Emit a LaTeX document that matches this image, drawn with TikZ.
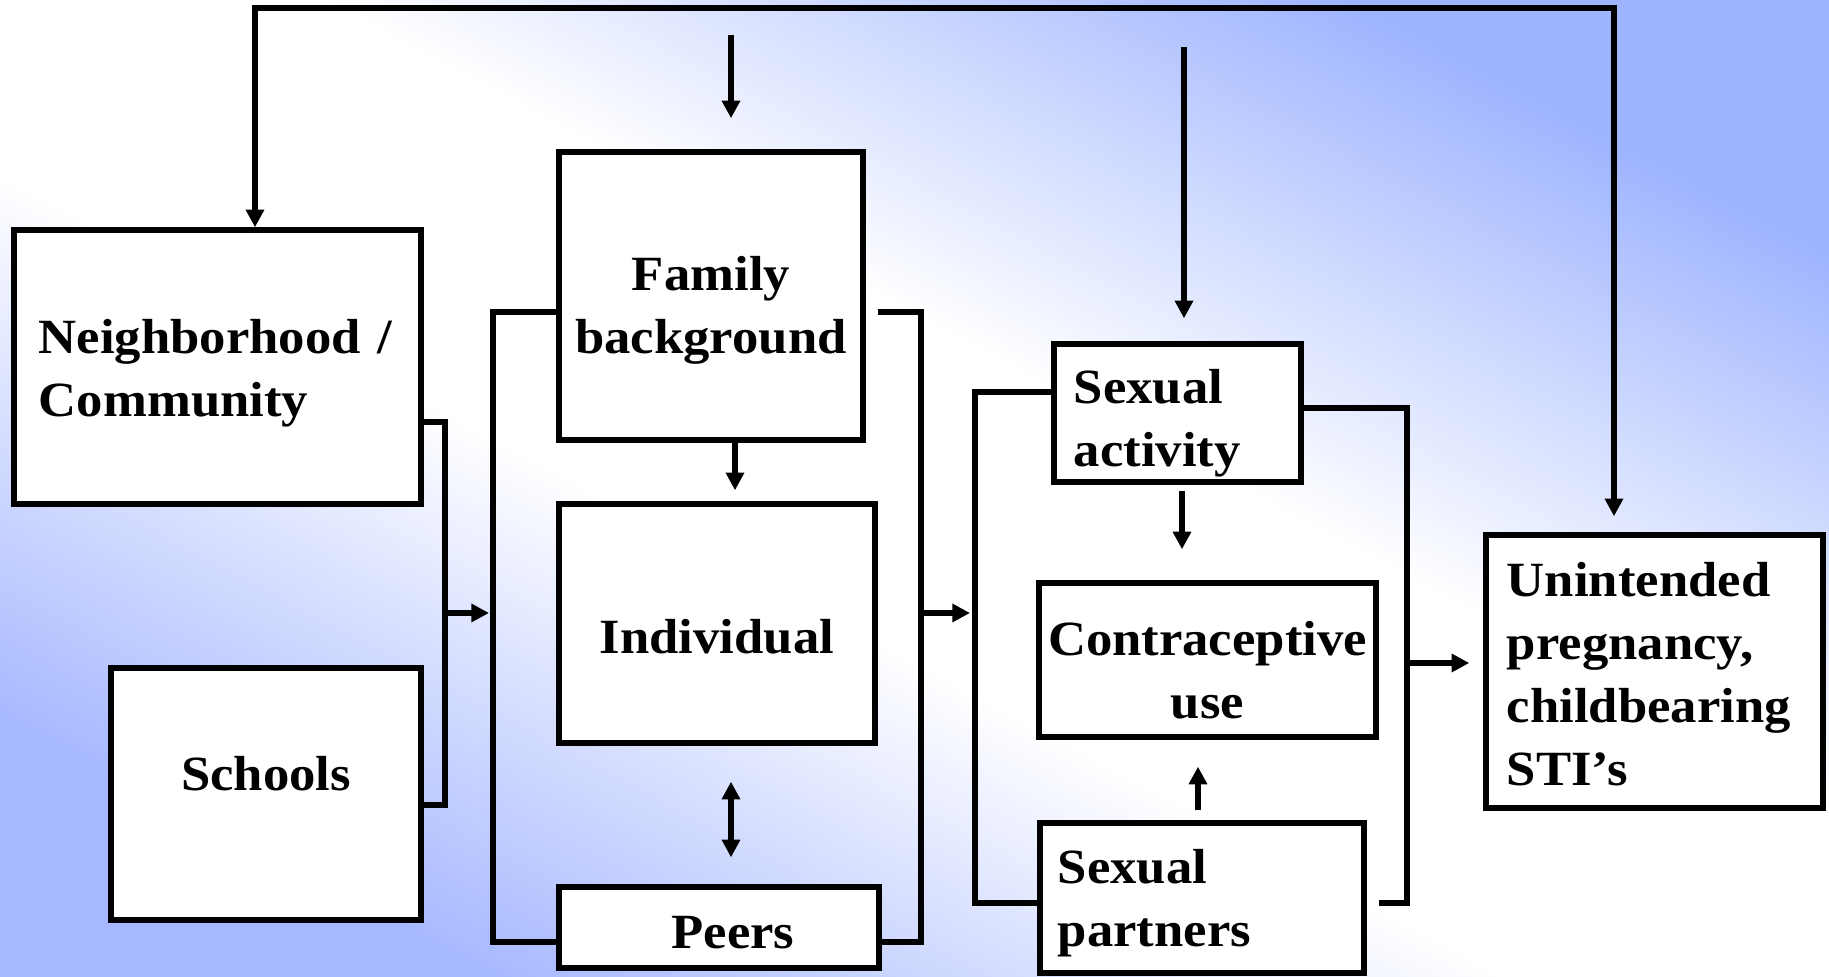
\documentclass[tikz,border=0pt]{standalone}
\usepackage{fontspec}
\setmainfont{Liberation Serif}[FakeStretch=1.07]
\usetikzlibrary{arrows.meta}
\usetikzlibrary{calc}

\definecolor{bgtr}{RGB}{158,180,255}
\definecolor{bgbl}{RGB}{166,184,255}
\pgfdeclareverticalshading{bgfade}{100bp}{color(0bp)=(bgbl); color(25bp)=(bgbl);
  color(44bp)=(white); color(56bp)=(white); color(75bp)=(bgtr); color(100bp)=(bgtr)}

\tikzset{
  box/.style={draw, fill=white, line width=1.5pt, inner xsep=0.05cm, inner ysep=0pt,
    align=center, font=\bfseries\fontsize{14}{17.9}\selectfont},
  lbox/.style={box, align=left},
  conn/.style={line width=1.5pt},
  arr/.style={conn, -{Triangle[length=5pt,width=5pt]}},
  darr/.style={conn, {Triangle[length=5pt,width=5pt]}-{Triangle[length=5pt,width=5pt]}},
}

\begin{document}
\begin{tikzpicture}[x=0.01cm, y=-0.01cm]
  \useasboundingbox (0,0) rectangle (1829,977);
  \shade[shading=bgfade, shading angle=-28] (0,0) rectangle (1829,977);

  % boxes
  \node[lbox, text width=3.57cm, inner xsep=0.25cm, minimum height=2.74cm,
    text height=13.1pt, text depth=20.9pt] (nbh) at (217.5,367) {Neighborhood /\\Community};
  \node[box, minimum width=3.10cm, minimum height=2.52cm,
    text height=9.5pt, text depth=11.6pt] (school) at (266,794) {Schools};
  \node[box, minimum width=3.04cm, minimum height=2.88cm,
    text height=35.9pt, text depth=3pt] (family) at (711,296) {Family\\background};
  \node[box, minimum width=3.16cm, minimum height=2.39cm,
    text height=17.5pt, text depth=0.2pt] (indiv) at (717,623.5) {Individual};
  \node[box, minimum width=3.20cm, minimum height=0.81cm,
    text height=12.1pt, text depth=0.2pt] (peers) at (719,927.5) {\hspace*{0.28cm}Peers};
  \node[lbox, text width=2.07cm, inner xsep=0.2cm, minimum height=1.38cm,
    text height=15.5pt, text depth=20.9pt] (sexact) at (1177.5,413) {Sexual\\activity};
  \node[box, minimum width=3.37cm, minimum height=1.54cm,
    text height=33.4pt, text depth=0.2pt] (contra) at (1207.5,660) {Contraceptive\\use};
  \node[lbox, text width=2.88cm, inner xsep=0.18cm, minimum height=1.50cm,
    text height=12.9pt, text depth=20.9pt] (partners) at (1202,898) {Sexual\\partners};
  \node[lbox, text width=2.95cm, inner xsep=0.21cm, minimum height=2.73cm,
    text height=11.5pt, text depth=53.9pt] (outcome) at (1654.5,671.5) {Unintended\\pregnancy,\\childbearing\\STI’s};

  % arrows from above
  \coordinate (toplft) at (255,8);
  \coordinate (toprgt) at (1614,8);
  \coordinate (famin) at (731,35);
  \coordinate (sain) at (1184,47);
  \draw[darr, shorten >=0.16cm] (toplft |- nbh.north) -- (toplft) -- (toprgt) -- (toprgt |- outcome.north);
  \draw[arr, shorten >=0.31cm] (famin) -- (famin |- family.north);
  \draw[arr, shorten >=0.23cm] (sain) -- (sain |- sexact.north);

  % arrows inside the groups
  \coordinate (fi) at ($(family.south)+(24,0)$);
  \draw[arr, shorten >=0.11cm] (fi) -- (fi |- indiv.north);
  \coordinate (ip) at ($(indiv.south)+(14,0)$);
  \draw[darr, shorten <=0.36cm, shorten >=0.27cm] (ip) -- (ip |- peers.north);
  \coordinate (sc) at ($(sexact.south)+(4.5,0)$);
  \draw[arr, shorten <=0.06cm, shorten >=0.31cm] (sc) -- (sc |- contra.north);
  \coordinate (pc) at ($(partners.north)+(-4,0)$);
  \draw[arr, shorten <=0.10cm, shorten >=0.27cm] (pc) -- (pc |- contra.south);

  % brackets
  \coordinate (b1t) at (445,422);
  \coordinate (b1b) at (445,805);
  \coordinate (b1m) at (445,613);
  \draw[conn] (nbh.east |- b1t) -- (b1t) -- (b1b) -- (school.east |- b1b);

  \coordinate (b2tl) at (493,312);
  \coordinate (b2bl) at (493,942);
  \coordinate (b2tr) at (921,312);
  \coordinate (b2br) at (921,942);
  \coordinate (b2m) at (921,613);
  \draw[conn] (family.west |- b2tl) -- (b2tl) -- (b2bl) -- (peers.west |- b2bl);
  \draw[conn] ($(family.east |- b2tr)+(12,0)$) -- (b2tr) -- (b2br) -- (peers.east |- b2br);

  \coordinate (b3tl) at (975,392);
  \coordinate (b3bl) at (975,903);
  \coordinate (b3tr) at (1407,408);
  \coordinate (b3br) at (1407,903);
  \coordinate (b3m) at (1407,663);
  \draw[conn] (sexact.west |- b3tl) -- (b3tl) -- (b3bl) -- (partners.west |- b3bl);
  \draw[conn] ($(sexact.east |- b3tr)+(-5,0)$) -- (b3tr) -- (b3br) -- ($(partners.east |- b3br)+(12,0)$);

  \draw[arr, shorten >=0.04cm] (b1m) -- (b1m -| b2tl);
  \draw[arr, shorten >=0.05cm] (b2m) -- (b2m -| b3tl);
  \draw[arr, shorten >=0.14cm] (b3m) -- (b3m -| outcome.west);
\end{tikzpicture}
\end{document}
